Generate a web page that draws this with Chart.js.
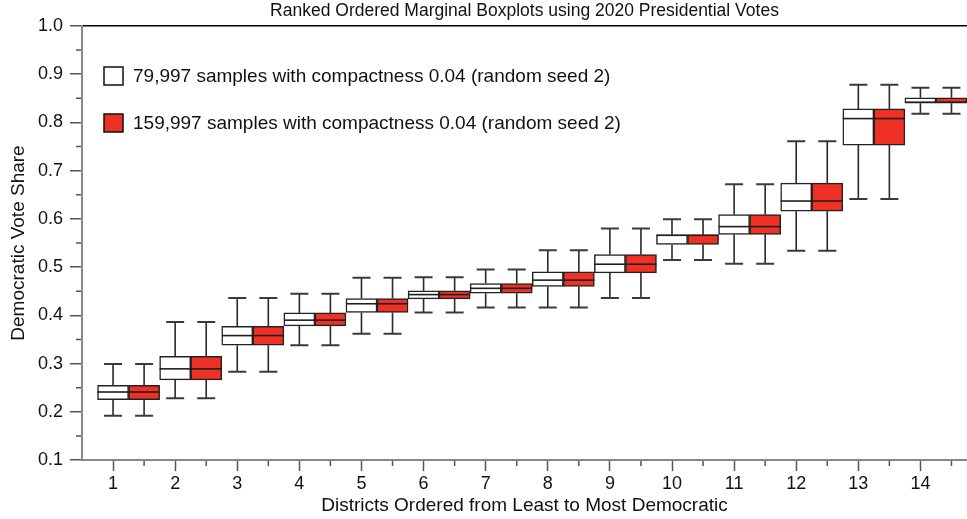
<!DOCTYPE html>
<html>
<head>
<meta charset="utf-8">
<script src="https://cdn.jsdelivr.net/npm/chart.js@4.4.1/dist/chart.umd.min.js"></script>
<style>
  html, body { margin: 0; padding: 0; background: #fff; }
</style>
</head>
<body>
<canvas id="chart" width="967" height="519"></canvas>
<script>
// districts on the x axis
const districts = [1, 2, 3, 4, 5, 6, 7, 8, 9, 10, 11, 12, 13, 14];
const seriesLabels = [
  '79,997 samples with compactness 0.04 (random seed 2)',
  '159,997 samples with compactness 0.04 (random seed 2)'
];

// 79,997 samples
const lowA  = [0.192, 0.228, 0.283, 0.338, 0.362, 0.406, 0.416, 0.416, 0.436, 0.515, 0.507, 0.534, 0.641, 0.818];
const q1A   = [0.225, 0.266, 0.338, 0.378, 0.406, 0.434, 0.446, 0.460, 0.488, 0.547, 0.568, 0.616, 0.753, 0.840];
const medA  = [0.241, 0.289, 0.358, 0.390, 0.424, 0.443, 0.456, 0.473, 0.506, 0.566, 0.584, 0.637, 0.808, 0.842];
const q3A   = [0.255, 0.315, 0.377, 0.405, 0.435, 0.451, 0.466, 0.490, 0.526, 0.567, 0.609, 0.674, 0.828, 0.851];
const highA = [0.299, 0.386, 0.436, 0.445, 0.478, 0.479, 0.495, 0.535, 0.580, 0.599, 0.672, 0.761, 0.878, 0.872];

// 159,997 samples
const lowB  = [0.192, 0.228, 0.283, 0.338, 0.362, 0.406, 0.416, 0.416, 0.436, 0.515, 0.507, 0.534, 0.641, 0.818];
const q1B   = [0.225, 0.266, 0.338, 0.378, 0.406, 0.434, 0.446, 0.460, 0.488, 0.547, 0.568, 0.616, 0.753, 0.840];
const medB  = [0.241, 0.289, 0.358, 0.390, 0.424, 0.443, 0.456, 0.473, 0.506, 0.566, 0.584, 0.637, 0.808, 0.842];
const q3B   = [0.255, 0.315, 0.377, 0.405, 0.435, 0.451, 0.466, 0.490, 0.526, 0.567, 0.609, 0.674, 0.828, 0.851];
const highB = [0.299, 0.386, 0.436, 0.445, 0.478, 0.479, 0.495, 0.535, 0.580, 0.599, 0.672, 0.761, 0.878, 0.872];

const yTicks = [0.1, 0.2, 0.3, 0.4, 0.5, 0.6, 0.7, 0.8, 0.9, 1.0];
const yMinorTicks = [0.15, 0.25, 0.35, 0.45, 0.55, 0.65, 0.75, 0.85, 0.95];
const xMinorTicks = [1.5, 2.5, 3.5, 4.5, 5.5, 6.5, 7.5, 8.5, 9.5, 10.5, 11.5, 12.5, 13.5, 14.5];

const FONT = '"Liberation Sans", Arial, Helvetica, sans-serif';
const LEGEND_FONT = '"Liberation Sans Narrow", "Arial Narrow", "Liberation Sans", sans-serif';
Chart.defaults.font.family = FONT;
Chart.defaults.color = '#111';

// whiskers, caps and median lines on top of the floating bars
const boxExtras = {
  id: 'boxExtras',
  afterDatasetsDraw(chart) {
    const { ctx, scales: { y } } = chart;
    chart.data.datasets.forEach((ds, di) => {
      const meta = chart.getDatasetMeta(di);
      meta.data.forEach((bar, i) => {
        const cx = bar.x;
        const half = bar.width / 2;
        const cap = bar.width * 0.29;
        const top = Math.min(bar.y, bar.base);
        const bottom = Math.max(bar.y, bar.base);
        const pHigh = y.getPixelForValue(ds.whiskerHigh[i]);
        const pLow = y.getPixelForValue(ds.whiskerLow[i]);
        const pMed = y.getPixelForValue(ds.median[i]);
        ctx.save();
        ctx.strokeStyle = '#2a2a2a';
        ctx.lineWidth = 1.6;
        ctx.beginPath();
        ctx.moveTo(cx, top); ctx.lineTo(cx, pHigh);
        ctx.moveTo(cx, bottom); ctx.lineTo(cx, pLow);
        ctx.stroke();
        ctx.strokeStyle = '#3a3a3a';
        ctx.lineWidth = 2;
        ctx.beginPath();
        ctx.moveTo(cx - cap, pHigh); ctx.lineTo(cx + cap, pHigh);
        ctx.moveTo(cx - cap, pLow); ctx.lineTo(cx + cap, pLow);
        ctx.stroke();
        ctx.strokeStyle = '#1e1e1e';
        ctx.lineWidth = 1.6;
        ctx.beginPath();
        ctx.moveTo(cx - half, pMed); ctx.lineTo(cx + half, pMed);
        ctx.stroke();
        ctx.restore();
      });
    });
  }
};

// short minor ticks between the major ones
const minorTicks = {
  id: 'minorTicks',
  afterDraw(chart) {
    const { ctx, chartArea, scales: { x, y } } = chart;
    ctx.save();
    ctx.strokeStyle = '#555';
    ctx.lineWidth = 1.5;
    ctx.beginPath();
    yMinorTicks.forEach(v => {
      const py = y.getPixelForValue(v);
      ctx.moveTo(chartArea.left - 6, py); ctx.lineTo(chartArea.left - 1, py);
    });
    xMinorTicks.forEach(v => {
      const px = x.getPixelForValue(v);
      ctx.moveTo(px, chartArea.bottom + 1); ctx.lineTo(px, chartArea.bottom + 6);
    });
    ctx.stroke();
    ctx.restore();
  }
};

// legend drawn inside the plot, top-left
const boxLegend = {
  id: 'boxLegend',
  afterDraw(chart) {
    const { ctx, chartArea } = chart;
    ctx.save();
    ctx.font = '19px ' + LEGEND_FONT;
    ctx.textBaseline = 'middle';
    ctx.textAlign = 'left';
    chart.data.datasets.forEach((ds, i) => {
      const cy = chartArea.top + 50 + i * 47;
      const bx = chartArea.left + 22;
      ctx.fillStyle = ds.backgroundColor;
      ctx.fillRect(bx, cy - 9, 19, 18);
      ctx.strokeStyle = '#111';
      ctx.lineWidth = 1.5;
      ctx.strokeRect(bx, cy - 9, 19, 18);
      ctx.fillStyle = '#111';
      ctx.fillText(ds.label, bx + 29, cy + 1);
    });
    ctx.restore();
  }
};

function boxDataset(label, xs, q1, q3, low, med, high, color) {
  return {
    label: label,
    data: xs.map((d, i) => ({ x: d, y: [q1[i], q3[i]] })),
    whiskerLow: low,
    median: med,
    whiskerHigh: high,
    backgroundColor: color,
    borderColor: '#222',
    borderWidth: 1.5,
    borderSkipped: false,
    grouped: false,
    categoryPercentage: 1,
    barPercentage: 1
  };
}

new Chart(document.getElementById('chart'), {
  type: 'bar',
  data: {
    datasets: [
      boxDataset(seriesLabels[0], districts, q1A, q3A, lowA, medA, highA, '#ffffff'),
      boxDataset(seriesLabels[1], districts.map(d => d + 0.5), q1B, q3B, lowB, medB, highB, '#ee3124')
    ]
  },
  options: {
    responsive: false,
    animation: false,
    layout: { padding: 0 },
    plugins: {
      legend: { display: false },
      tooltip: { enabled: false },
      title: {
        display: true,
        text: 'Ranked Ordered Marginal Boxplots using 2020 Presidential Votes',
        fullSize: false,
        color: '#111',
        font: { size: 17.5, weight: 'normal', lineHeight: 1.2 },
        padding: { top: 1, bottom: 4 }
      }
    },
    scales: {
      x: {
        type: 'linear',
        min: 0.5,
        max: 14.75,
        offset: false,
        afterBuildTicks: s => { s.ticks = districts.map(v => ({ value: v })); },
        afterFit: s => { s.height = 59; },
        grid: { drawOnChartArea: false, offset: false, tickLength: 11, tickColor: '#555', tickWidth: 1.5 },
        border: { display: true, color: '#888', width: 2 },
        ticks: { autoSkip: false, maxRotation: 0, padding: 2, color: '#111', font: { size: 18 }, callback: v => String(v) },
        title: {
          display: true,
          text: 'Districts Ordered from Least to Most Democratic',
          color: '#111',
          font: { size: 19 },
          padding: { top: 0, bottom: 2 }
        }
      },
      y: {
        min: 0.1,
        max: 1.0,
        afterBuildTicks: s => { s.ticks = yTicks.map(v => ({ value: v })); },
        afterFit: s => { s.width = 82; },
        grid: {
          drawOnChartArea: true,
          color: c => (c.tick && c.tick.value === 1.0) ? '#000' : 'rgba(0,0,0,0)',
          lineWidth: 1.5,
          tickLength: 12,
          tickColor: '#555',
          tickWidth: 1.5
        },
        border: { display: true, color: '#888', width: 2 },
        ticks: { padding: 7, color: '#111', font: { size: 18 }, callback: v => v.toFixed(1) },
        title: {
          display: true,
          text: 'Democratic Vote Share',
          color: '#111',
          font: { size: 19 },
          padding: { top: 7, bottom: 0 }
        }
      }
    }
  },
  plugins: [boxExtras, minorTicks, boxLegend]
});
</script>
</body>
</html>
